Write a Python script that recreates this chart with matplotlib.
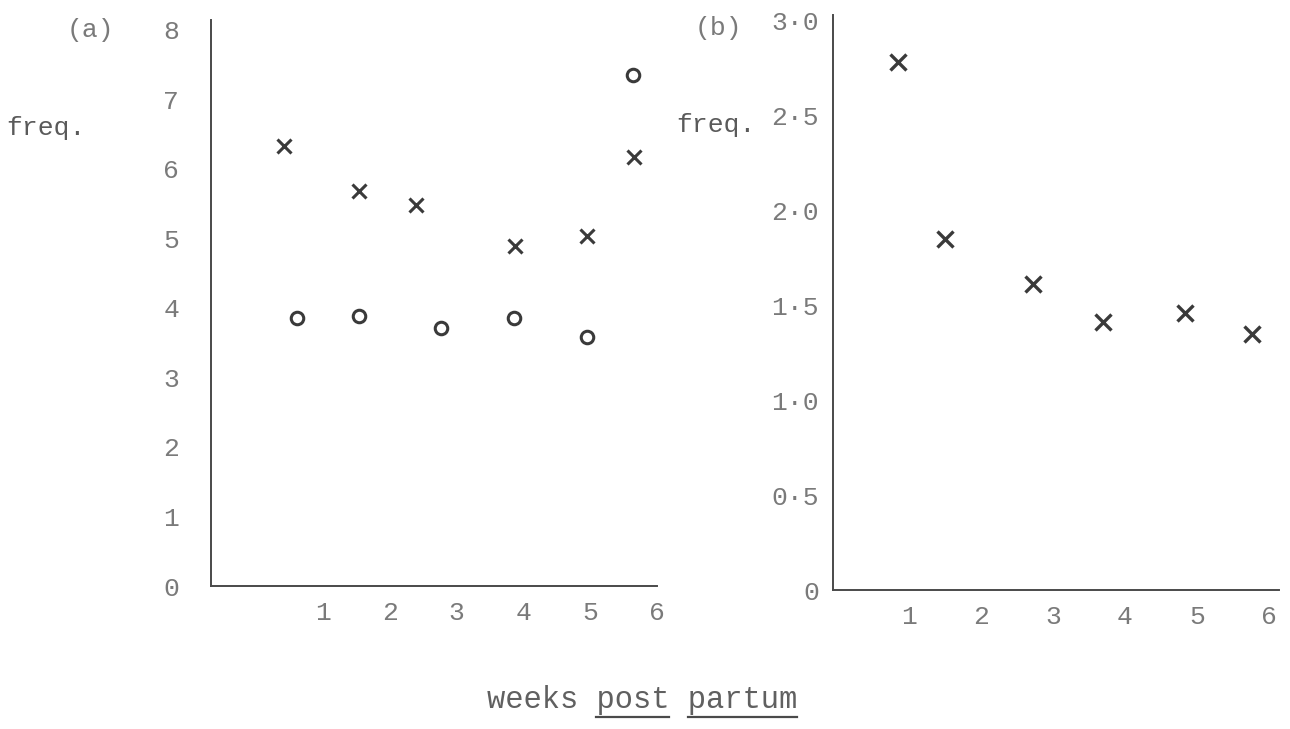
import matplotlib.pyplot as plt

# (a): two series against weeks post partum
weeks_a_cross = [0.41, 1.53, 2.39, 3.88, 4.95, 5.65]
freq_a_cross = [6.33, 5.68, 5.48, 4.89, 5.04, 6.17]
weeks_a_circle = [0.61, 1.53, 2.76, 3.86, 4.95, 5.64]
freq_a_circle = [3.86, 3.88, 3.71, 3.86, 3.58, 7.35]

# (b): one series
weeks_b = [0.85, 1.49, 2.72, 3.69, 4.83, 5.76]
freq_b = [2.78, 1.85, 1.61, 1.41, 1.46, 1.35]

x_ticks = [1, 2, 3, 4, 5, 6]
y_ticks_a = [0, 1, 2, 3, 4, 5, 6, 7, 8]
y_ticks_b = [0, 0.5, 1.0, 1.5, 2.0, 2.5, 3.0]
y_labels_b = ['0', '0·5', '1·0', '1·5', '2·0', '2·5', '3·0']

plt.rcParams['font.family'] = ['Liberation Mono', 'DejaVu Sans Mono']

W, H = 1290, 729
fig = plt.figure(figsize=(W / 100, H / 100), dpi=100)
fig.patch.set_facecolor('white')

ink = '#3a3a3a'
faint = '#7a7a7a'


def style_axes(ax, ypad):
    for side in ['top', 'right']:
        ax.spines[side].set_visible(False)
    for side in ['left', 'bottom']:
        ax.spines[side].set_color('#4a4a4a')
        ax.spines[side].set_linewidth(1.4)
    ax.tick_params(axis='both', length=0, labelsize=19, labelcolor=faint)
    ax.tick_params(axis='y', pad=ypad)
    ax.tick_params(axis='x', pad=11)
    ax.set_facecolor('none')


ax1 = fig.add_axes([211 / W, 1 - 586 / H, 446 / W, 566 / H])
ax1.plot(weeks_a_cross, freq_a_cross, linestyle='none', marker='x',
         markersize=9.5, markeredgewidth=2.2, color=ink)
ax1.plot(weeks_a_circle, freq_a_circle, linestyle='none', marker='o',
         markersize=9, markeredgewidth=2.2, markerfacecolor='none',
         markeredgecolor=ink)
ax1.set_xlim(-0.68, 6.0)
ax1.set_ylim(0, 8.14)
ax1.set_xticks(x_ticks)
ax1.set_yticks(y_ticks_a)
style_axes(ax1, 23)

ax2 = fig.add_axes([833 / W, 1 - 590 / H, 446 / W, 575 / H])
ax2.plot(weeks_b, freq_b, linestyle='none', marker='x',
         markersize=12, markeredgewidth=2.4, color=ink)
ax2.set_xlim(-0.06, 6.14)
ax2.set_ylim(0, 3.03)
ax2.set_xticks(x_ticks)
ax2.set_yticks(y_ticks_b)
ax2.set_yticklabels(y_labels_b)
style_axes(ax2, 10)


def put(x, y, s, **kw):
    return fig.text(x / W, 1 - y / H, s, ha='center', va='center', **kw)


put(90, 30, '(a)', fontsize=19, color=faint)
put(718, 28, '(b)', fontsize=19, color=faint)
put(46, 128, 'freq.', fontsize=19, color='#5a5a5a')
put(716, 125, 'freq.', fontsize=19, color='#5a5a5a')

xlabel = 'weeks post partum'
xl = put(642, 700, xlabel, fontsize=22, color='#606060')

# underline "post" and "partum"
fig.canvas.draw()
bb = xl.get_window_extent(renderer=fig.canvas.get_renderer())
cw = bb.width / len(xlabel)
uy = (bb.y0 - 2) / H
for start, end in [(6, 10), (11, 17)]:
    x0 = (bb.x0 + start * cw) / W
    x1 = (bb.x0 + end * cw) / W
    fig.add_artist(plt.Line2D([x0, x1], [uy, uy], color='#4a4a4a',
                              linewidth=1.6, transform=fig.transFigure))

fig.savefig('out.png', dpi=100)
